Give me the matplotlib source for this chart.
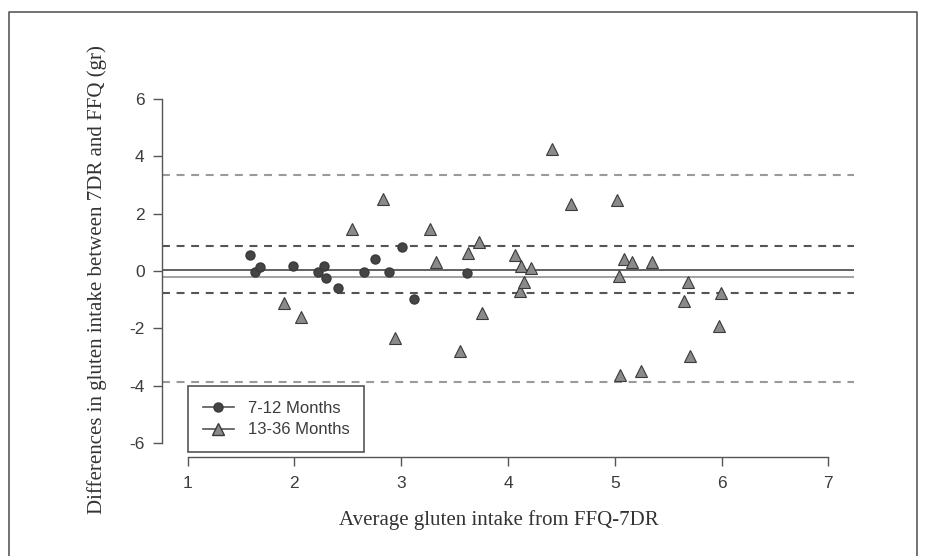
## Bland-Altman style plot: 7DR vs FFQ gluten intake
import matplotlib.pyplot as plt
from matplotlib.lines import Line2D
import numpy as np

# 7-12 months (circles)
x_young = [1.58, 1.63, 1.68, 1.99, 2.22, 2.28, 2.30, 2.41, 2.65, 2.75, 2.89, 3.01, 3.12, 3.62]
y_young = [0.57, -0.02, 0.13, 0.19, -0.02, 0.19, -0.25, -0.58, -0.02, 0.43, -0.02, 0.82, -0.99, -0.08]

# 13-36 months (triangles)
x_old = [1.90, 2.06, 2.54, 2.83, 2.94, 3.27, 3.33, 3.55, 3.63, 3.73, 3.76, 4.07, 4.11, 4.12, 4.15,
         4.22, 4.41, 4.59, 5.02, 5.04, 5.05, 5.09, 5.16, 5.25, 5.35, 5.65, 5.69, 5.70, 5.98, 5.99]
y_old = [-1.13, -1.59, 1.45, 2.50, -2.35, 1.48, 0.33, -2.78, 0.62, 1.01, -1.48, 0.57, -0.68, 0.18, -0.40,
         0.10, 4.24, 2.34, 2.46, -0.16, -3.61, 0.41, 0.30, -3.48, 0.33, -1.05, -0.39, -2.96, -1.92, -0.75]

# mean difference and limits of agreement
young_mean, young_lo, young_hi = 0.05, -0.78, 0.87
old_mean, old_lo, old_hi = -0.22, -3.86, 3.36

xticks = [1, 2, 3, 4, 5, 6, 7]
yticks = [-6, -4, -2, 0, 2, 4, 6]

W, H = 927, 556
fig = plt.figure(figsize=(W / 100, H / 100), dpi=100)
ax = fig.add_axes([162 / W, 1 - 457 / H, (854 - 162) / W, (457 - 85) / H])

dark = '#555555'
light = '#9a9a9a'
dash = (0, (3.8, 3.2))

# reference lines
ax.axhline(old_hi, color=light, lw=1.5, ls=dash)
ax.axhline(old_lo, color=light, lw=1.5, ls=dash)
ax.axhline(young_hi, color=dark, lw=1.5, ls=dash)
ax.axhline(young_lo, color=dark, lw=1.5, ls=dash)
ax.axhline(young_mean, color=dark, lw=1.3)
ax.axhline(old_mean, color=light, lw=1.3)

ax.plot(x_young, y_young, 'o', ms=6.5, color='#454545', mec='#3a3a3a', zorder=3)
ax.plot(x_old, y_old, '^', ms=9, color='#8a8a8a', mec='#3a3a3a', mew=0.8, zorder=3)

# R-like axes
ax.set_xlim(0.76, 7.24)
ax.set_ylim(-6.48, 6.48)
ax.set_xticks(xticks)
ax.set_yticks(yticks)
ax.set_yticklabels([str(t) for t in yticks])
for s in ['top', 'right']:
    ax.spines[s].set_visible(False)
ax.spines['left'].set_bounds(-6, 6)
ax.spines['bottom'].set_bounds(1, 7)
for s in ['left', 'bottom']:
    ax.spines[s].set_color(dark)
    ax.spines[s].set_linewidth(1.0)
ax.tick_params(length=6.5, width=1.0, color=dark, labelcolor='#3c3c3c',
               labelsize=12.5, labelfontfamily='Liberation Sans')
ax.tick_params(axis='y', pad=6)
ax.tick_params(axis='x', pad=7)

handles = [Line2D([], [], color=dark, lw=1.2, marker='o', ms=6.5, mfc='#454545', mec='#3a3a3a'),
           Line2D([], [], color=dark, lw=1.2, marker='^', ms=9, mfc='#8a8a8a', mec='#3a3a3a')]
leg = ax.legend(handles, ['7-12 Months', '13-36 Months'], loc='upper left',
                bbox_to_anchor=(1.0, -4.0), bbox_transform=ax.transData,
                borderaxespad=0, fancybox=False, framealpha=1, edgecolor=dark,
                prop={'family': 'Liberation Sans', 'size': 12},
                handlelength=1.9, handletextpad=0.8, borderpad=0.9, labelspacing=0.4)
leg.get_frame().set_linewidth(1.2)
for t in leg.get_texts():
    t.set_color('#3c3c3c')

fig.text(97 / W, 1 - 280 / H, 'Differences in gluten intake between 7DR and FFQ (gr)',
         rotation=90, ha='center', va='center', family='Liberation Serif', size=15, color='#333333')
fig.text(499 / W, 1 - 520 / H, 'Average gluten intake from FFQ-7DR',
         ha='center', va='center', family='Liberation Serif', size=15, color='#333333')

# outer frame
fig.add_artist(Line2D([9 / W, 9 / W, 917 / W, 917 / W], [0, 1 - 12 / H, 1 - 12 / H, 0],
                      color='#5a5a5a', lw=1.2))

fig.savefig('out.png', dpi=100)
